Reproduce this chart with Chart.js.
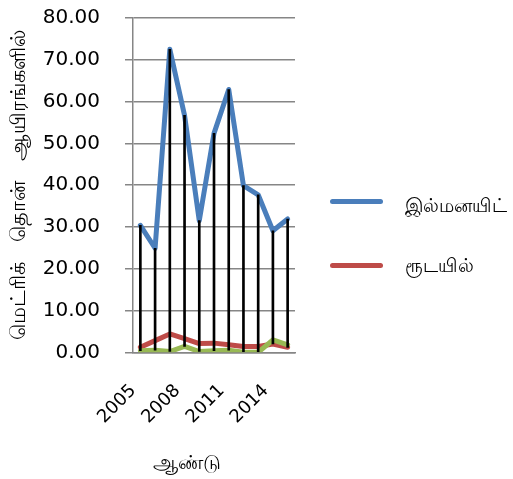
<!DOCTYPE html>
<html>
<head>
<meta charset="utf-8">
<script src="https://cdn.jsdelivr.net/npm/chart.js@4/dist/chart.umd.min.js"></script>
<style>
html,body{margin:0;padding:0;background:#fff;}
#wrap{width:513px;height:479px;position:relative;}
#legend{position:absolute;left:330px;top:186px;font-family:'DejaVu Sans','Noto Sans',sans-serif;font-size:19px;color:#000;}
.item{position:absolute;left:0;white-space:nowrap;height:30px;}
.swatch{position:absolute;left:0;top:13px;width:53px;height:5px;border-radius:3px;}
.lbl{position:absolute;left:75px;top:8px;line-height:22px;}
.item:nth-child(2) .lbl{top:4px;}
#xtitle{position:absolute;left:153px;top:450px;font-family:'DejaVu Sans','Noto Sans',sans-serif;font-size:20px;color:#000;white-space:nowrap;}
</style>
</head>
<body>
<div id="wrap"><canvas id="c"></canvas><div id="legend"></div><div id="xtitle"></div></div>
<script>
const years = ['2005','2006','2007','2008','2009','2010','2011','2012','2013','2014','2015'];
const ilmenite = [30.4, 24.9, 72.5, 56.7, 31.5, 52.4, 62.9, 39.9, 37.7, 29.1, 31.9];
const rutile = [1.2, 2.8, 4.4, 3.3, 2.1, 2.2, 1.8, 1.4, 1.4, 2.0, 1.2];
const third = [0.4, 0.5, 0.2, 1.4, 0.2, 0.4, 0.5, 0.0, 0.0, 3.0, 1.8];
const seriesNames = ['இல்மனயிட்', 'ரூடயில்', ''];
const seriesColors = ['#4A7EBB', '#BE4B48', '#98B954'];
const yTitle = 'மெட்ரிக்   தொன்   ஆயிரங்களில்';
const xTitle = 'ஆண்டு';

const hiLow = years.map((y, i) => {
  const vals = [ilmenite[i], rutile[i], third[i]];
  return [Math.min(...vals), Math.max(...vals)];
});

const FONT = "'DejaVu Sans', 'Noto Sans', sans-serif";
const PAD_LEFT = 7;

function lineDs(name, data, color, order) {
  return {label: name, data: data, borderColor: color, backgroundColor: color, borderWidth: 5,
    pointRadius: 0, tension: 0, borderJoinStyle: 'round', borderCapStyle: 'round', order: order};
}

const chart = new Chart(document.getElementById('c'), {
  type: 'line',
  data: {
    labels: years,
    datasets: [
      {type: 'bar', label: 'hl', data: hiLow, backgroundColor: '#000', borderWidth: 0, barThickness: 2, order: 0},
      lineDs(seriesNames[0], ilmenite, seriesColors[0], 3),
      lineDs(seriesNames[1], rutile, seriesColors[1], 2),
      lineDs(seriesNames[2], third, seriesColors[2], 1)
    ]
  },
  options: {
    responsive: true,
    maintainAspectRatio: false,
    animation: false,
    layout: {padding: {left: PAD_LEFT, top: 0, right: 218, bottom: 23}},
    plugins: {
      tooltip: {enabled: false},
      legend: {display: false}
    },
    scales: {
      x: {
        grid: {display: false, drawTicks: false},
        border: {color: '#868686', width: 1.5},
        ticks: {
          autoSkip: false,
          maxRotation: 45,
          minRotation: 45,
          labelOffset: -7,
          color: '#000',
          padding: 28,
          font: {family: FONT, size: 18},
          callback: function(v, i) { return i % 3 === 0 ? this.getLabelForValue(v) : ''; }
        },
        title: {display: false}
      },
      y: {
        min: 0, max: 80,
        afterFit: (s) => { s.width = 133 - PAD_LEFT; s.paddingTop = 18; s.paddingBottom = 12; },
        grid: {color: '#868686', lineWidth: 1.5, tickLength: 8},
        border: {color: '#868686', width: 1.5},
        ticks: {
          stepSize: 10,
          color: '#000',
          padding: 25,
          font: {family: FONT, size: 20},
          callback: (v) => Number(v).toFixed(2)
        },
        title: {display: true, text: yTitle, color: '#000', font: {family: FONT, size: 21}, padding: {top: 0, bottom: 0}}
      }
    }
  }
});

document.getElementById('xtitle').textContent = xTitle;

// legend built from the chart's own named datasets
const leg = document.getElementById('legend');
chart.data.datasets.filter(d => d.type !== 'bar' && d.label).forEach((d, i) => {
  const it = document.createElement('div');
  it.className = 'item';
  it.style.top = (i * 64) + 'px';
  const sw = document.createElement('div');
  sw.className = 'swatch';
  sw.style.background = d.borderColor;
  const tx = document.createElement('div');
  tx.className = 'lbl';
  tx.textContent = d.label;
  it.appendChild(sw); it.appendChild(tx);
  leg.appendChild(it);
});
</script>
</body>
</html>
